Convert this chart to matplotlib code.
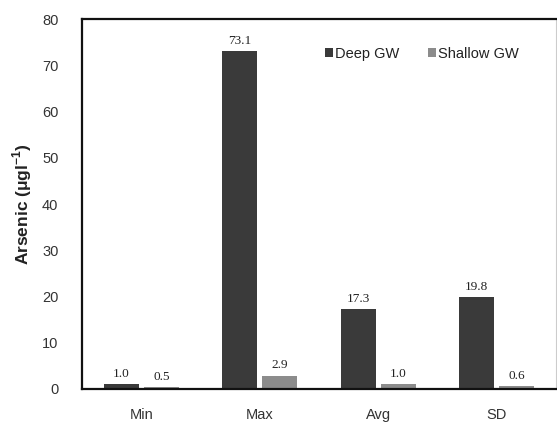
import matplotlib
matplotlib.use("Agg")
import matplotlib.pyplot as plt
import numpy as np

categories = ["Min", "Max", "Avg", "SD"]
deep_gw = [1.0, 73.1, 17.3, 19.8]
shallow_gw = [0.5, 2.9, 1.0, 0.6]
yticks = [0, 10, 20, 30, 40, 50, 60, 70, 80]

dark = "#3a3a3a"
light = "#8c8c8c"

fig = plt.figure(figsize=(5.57, 4.22), dpi=100)
ax = fig.add_axes([82 / 557, 1 - 389 / 422, 474 / 557, 370 / 422])

x = np.arange(len(categories))
w = 0.295
off = 0.17
ax.bar(x - off, deep_gw, width=w, color=dark, label="Deep GW", zorder=2)
ax.bar(x + off, shallow_gw, width=w, color=light, label="Shallow GW", zorder=2)

for xi, v in zip(x - off, deep_gw):
    ax.text(xi, v + 0.9, f"{v:.1f}", ha="center", va="bottom",
            family="Liberation Serif", fontsize=9.5, color="#222222")
for xi, v in zip(x + off, shallow_gw):
    ax.text(xi, v + 0.9, f"{v:.1f}", ha="center", va="bottom",
            family="Liberation Serif", fontsize=9.5, color="#222222")

ax.set_xlim(-0.5, 3.5)
ax.set_ylim(0, 80)
ax.set_yticks(yticks)
ax.set_xticks(x)
ax.set_xticklabels(categories)
ax.tick_params(axis="both", length=0, labelsize=10.5, labelcolor="#333333")
ax.tick_params(axis="x", pad=14)
ax.tick_params(axis="y", pad=17)
for lab in ax.get_xticklabels() + ax.get_yticklabels():
    lab.set_family("Liberation Sans")

for s in ["left", "bottom", "top"]:
    ax.spines[s].set_linewidth(1.6)
    ax.spines[s].set_color("#111111")
ax.spines["right"].set_linewidth(0.8)
ax.spines["right"].set_color("#cccccc")

ax.set_ylabel("Arsenic (μgl$^{\\mathregular{-1}}$)", family="Liberation Sans",
              fontsize=12.5, fontweight="bold", color="#222222", labelpad=6)

leg = ax.legend(loc="upper right", bbox_to_anchor=(0.95, 0.96), ncol=2,
                frameon=False, handlelength=0.55, handleheight=0.55,
                handletextpad=0.15, columnspacing=2.0,
                prop={"family": "Liberation Sans", "size": 10.5})
for t in leg.get_texts():
    t.set_color("#222222")

fig.savefig("out.png", dpi=100)
